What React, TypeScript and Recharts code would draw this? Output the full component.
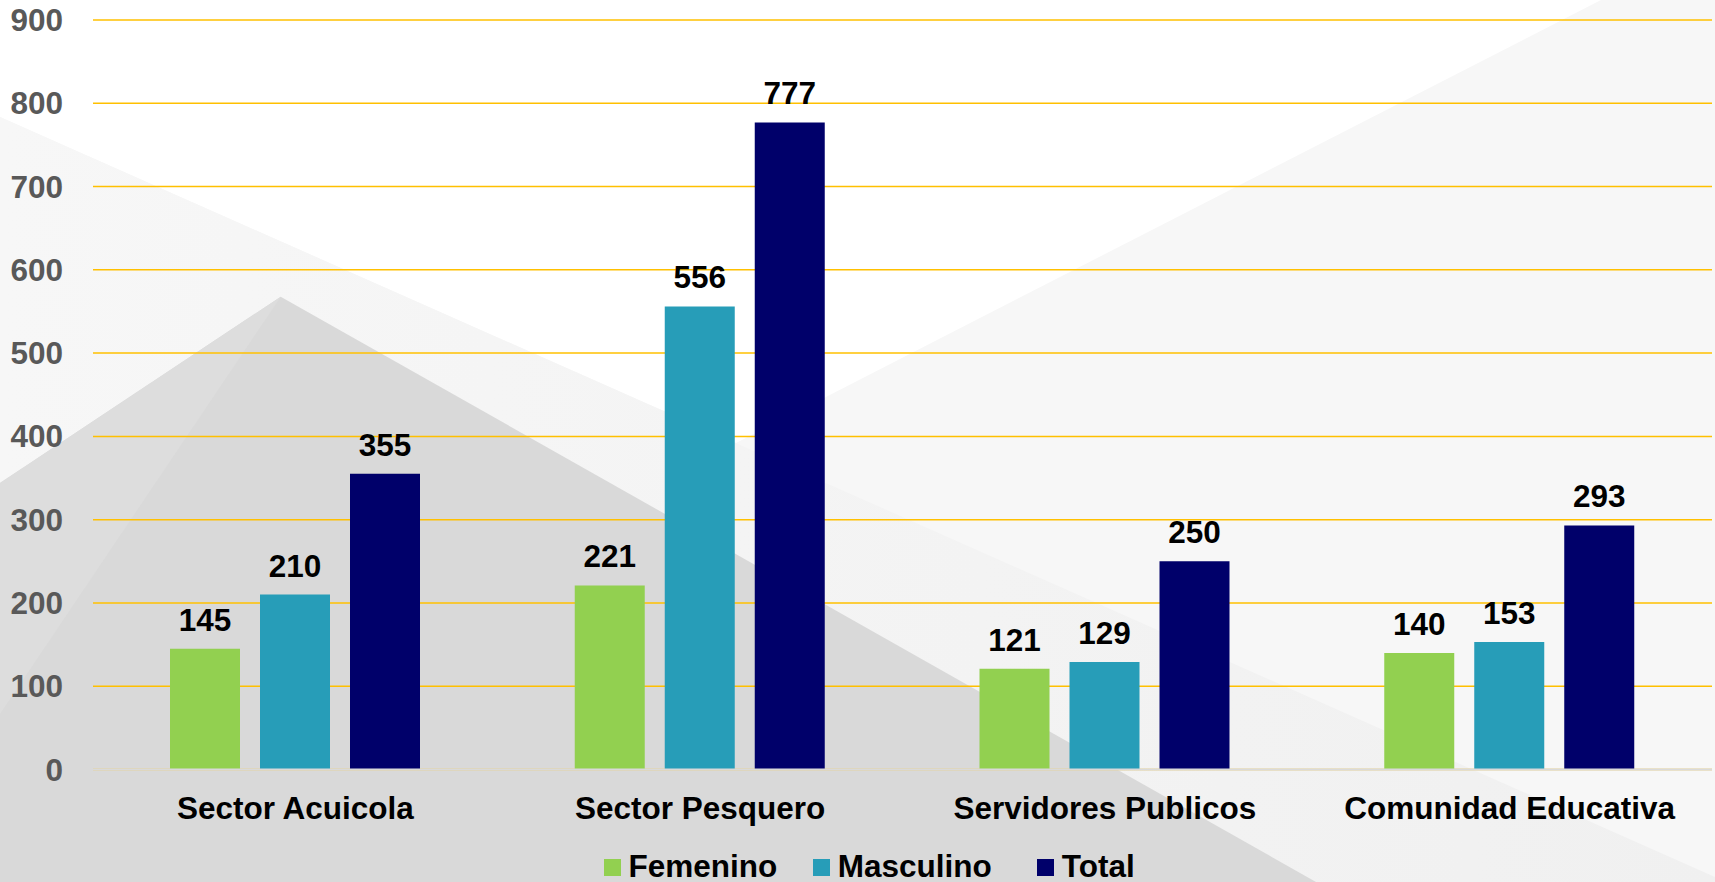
import { BarChart, Bar, XAxis, YAxis, CartesianGrid, Legend, LabelList } from "recharts"

const CATEGORIES = ["Sector Acuicola", "Sector Pesquero", "Servidores Publicos", "Comunidad Educativa"]
const FEMENINO = [145, 221, 121, 140]
const MASCULINO = [210, 556, 129, 153]
const TOTAL = [355, 777, 250, 293]
const Y_TICKS = [0, 100, 200, 300, 400, 500, 600, 700, 800, 900]

const SERIES = [
    { key: "femenino", name: "Femenino", color: "#92d050" },
    { key: "masculino", name: "Masculino", color: "#279db8" },
    { key: "total", name: "Total", color: "#00006a" },
]

const DATA = CATEGORIES.map((c, i) => ({
    category: c,
    femenino: FEMENINO[i],
    masculino: MASCULINO[i],
    total: TOTAL[i],
}))

const W = 1715
const H = 882
const FONT = "'Liberation Sans', Arial, sans-serif"
const FS = 31.5

const XTick = (props: any) => {
    const { x, y, payload } = props
    return (
        <text x={x} y={y + 49} textAnchor="middle" fontFamily={FONT} fontSize={FS} fontWeight="bold" fill="#000">
            {payload.value}
        </text>
    )
}

const YTick = (props: any) => {
    const { x, y, payload } = props
    return (
        <text x={x} y={y + 11} textAnchor="end" fontFamily={FONT} fontSize={FS} fontWeight="bold" fill="#595959">
            {payload.value}
        </text>
    )
}

const ValueLabel = (props: any) => {
    const { x, y, width, value } = props
    return (
        <text x={x + width / 2} y={y - 18} textAnchor="middle" fontFamily={FONT} fontSize={FS} fontWeight="bold" fill="#000">
            {value}
        </text>
    )
}

// legend spacing (gaps are not even)
const LEGEND_GAPS = [35.5, 45, 0]

const LegendContent = () => (
    <div style={{ display: "flex", height: 52.5, paddingLeft: 603.5, paddingTop: 21, boxSizing: "border-box" }}>
        {SERIES.map((s, i) => (
            <div key={s.key} style={{ display: "flex", alignItems: "center", marginRight: LEGEND_GAPS[i], height: 31 }}>
                <span style={{ width: 17, height: 17, background: s.color, marginRight: 8, marginTop: 2 }} />
                <span style={{ fontFamily: FONT, fontSize: FS, fontWeight: "bold", lineHeight: "31px", color: "#000" }}>
                    {s.name}
                </span>
            </div>
        ))}
    </div>
)

function Background() {
    return (
        <svg width={W} height={H} style={{ position: "absolute", left: 0, top: 0 }}>
            <defs>
                <linearGradient id="lowShade" x1="0" x2="1" y1="0" y2="0">
                    <stop offset="0" stopColor="#f7f7f7" />
                    <stop offset="1" stopColor="#f0f0f0" />
                </linearGradient>
            </defs>
            <rect x={0} y={0} width={W} height={H} fill="#f7f7f7" />
            <polygon points="0,0 1601,0 736,443 0,117" fill="#ffffff" />
            <polygon points="0,117 1715,877 1715,882 0,882" fill="url(#lowShade)" />
            <polygon points="280.7,296.7 0,483 0,882 1316,882" fill="#d9d9d9" />
            <polygon points="280.7,296.7 0,483 0,714" fill="#dddddd" />
        </svg>
    )
}

export default function App() {
    return (
        <div style={{ position: "absolute", left: 0, top: 0, width: W, height: H, overflow: "hidden" }}>
            <Background />
            <div style={{ position: "relative" }}>
                <BarChart
                    width={W}
                    height={H}
                    data={DATA}
                    margin={{ top: 20, right: 3, left: 0, bottom: 0 }}
                    barSize={70}
                    barGap={20}
                >
                    <CartesianGrid vertical={false} stroke="#ffc000" strokeWidth={1.5} />
                    <XAxis
                        dataKey="category"
                        height={60}
                        tickLine={false}
                        tickSize={0}
                        tickMargin={0}
                        axisLine={{ stroke: "#d9d9d9", strokeWidth: 2 }}
                        tick={<XTick />}
                        interval={0}
                    />
                    <YAxis
                        width={93}
                        domain={[0, 900]}
                        ticks={Y_TICKS}
                        axisLine={false}
                        tickLine={false}
                        tickSize={0}
                        tickMargin={30}
                        tick={<YTick />}
                    />
                    <Legend
                        verticalAlign="bottom"
                        height={52.5}
                        content={<LegendContent />}
                        wrapperStyle={{ left: 0, bottom: 0, width: W, height: 52.5 }}
                    />
                    {SERIES.map((s) => (
                        <Bar key={s.key} dataKey={s.key} name={s.name} fill={s.color} isAnimationActive={false}>
                            <LabelList dataKey={s.key} content={<ValueLabel />} />
                        </Bar>
                    ))}
                </BarChart>
            </div>
        </div>
    )
}
